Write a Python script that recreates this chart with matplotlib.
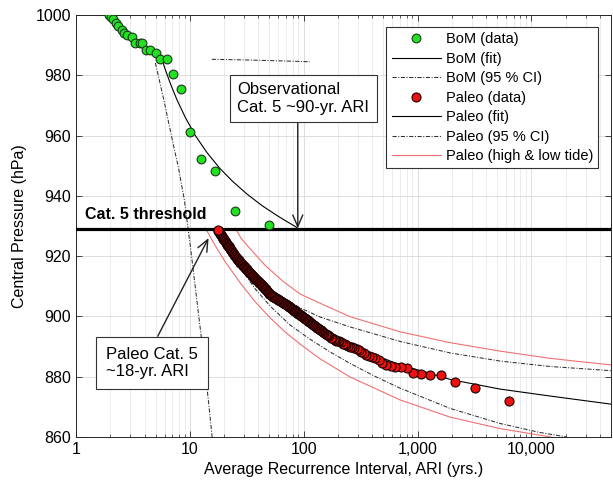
import numpy as np
import matplotlib
matplotlib.use('Agg')
import matplotlib.pyplot as plt
from matplotlib.ticker import FuncFormatter, FixedLocator, LogLocator, NullFormatter

plt.rcParams['font.family'] = ['Liberation Sans', 'DejaVu Sans']

# ---- BoM observations ----
bom_ari = [1.93, 2.02, 2.12, 2.24, 2.34, 2.51, 2.64, 2.79, 3.08, 3.28, 3.64, 3.83,
           4.09, 4.45, 5.0, 5.45, 6.24, 7.13, 8.38, 9.96, 12.5, 16.5, 24.9, 49.5]
bom_p = [1000.0, 999.4, 998.6, 997.5, 996.2, 995.0, 994.1, 993.4, 992.6, 990.6, 990.6, 990.6,
         988.4, 988.4, 987.3, 985.4, 985.4, 980.4, 975.3, 961.3, 952.3, 948.2, 935.1, 930.3]

bom_fit_ari = [5.70, 6.10, 6.75, 7.72, 9.13, 11.17, 14.24, 18.25, 23.6, 31.75, 43.25, 60.97, 87.2]
bom_fit_p = [985.1, 981.8, 977.2, 971.8, 966.0, 960.0, 954.2, 949.2, 944.9, 940.6, 936.7, 933.0, 929.5]

bom_lo_ari = [4.98, 5.91, 7.02, 8.01, 8.95, 10.20, 11.52, 13.0, 14.53, 15.69]
bom_lo_p = [984.1, 971.8, 958.5, 948.6, 938.6, 922.0, 905.4, 888.9, 872.3, 860.0]
bom_hi_ari = [15.6, 30.0, 60.0, 113.0]
bom_hi_p = [985.3, 985.1, 984.8, 984.5]

# ---- Paleo record ----
paleo_ari = [6400, 3200, 2130, 1600, 1280, 1070, 915, 800, 711, 640, 582, 533, 492, 457, 427,
             400, 376, 356, 337, 320, 305, 291, 278, 267, 256, 246, 237, 229, 221, 213, 206,
             200, 194, 188, 183, 178, 173, 168, 164, 160, 156, 152, 149, 145, 142, 139, 136,
             133, 131, 128, 125, 123, 121, 119, 116, 114, 112, 110, 108, 107, 105, 103, 102,
             100, 98.5, 97, 95.5, 94, 92.5, 91, 90, 89, 87.5, 86, 85, 84, 83, 82, 81, 80, 79,
             78, 77, 76, 75, 74, 73, 72, 71, 70, 69, 68, 67, 66, 65, 64, 63, 62, 61, 60, 59,
             58, 57, 56, 55, 54, 53, 52, 51, 50, 49.2, 48.5, 47.7, 47, 46.3, 45.7, 45.0, 44.4,
             43.8, 43.2, 42.6, 42, 41.4, 40.8, 40.1, 39.5, 38.9, 38.3, 37.7, 37.2, 36.7, 36.2,
             35.7, 35.2, 34.7, 34.2, 33.7, 33.3, 32.8, 32.4, 31.9, 31.5, 31.0, 30.6, 30.2,
             29.8, 29.4, 29.0, 28.6, 28.2, 27.8, 27.5, 27.1, 26.8, 26.4, 26.1, 25.7, 25.4,
             25.1, 24.8, 24.5, 24.2, 23.9, 23.6, 23.3, 23.0, 22.7, 22.4, 22.1, 21.9, 21.6,
             21.4, 21.1, 20.9, 20.6, 20.4, 20.1, 19.9, 19.7, 19.5, 19.3, 19.1, 18.9, 18.7,
             18.5, 18.3, 18.1, 17.9, 17.7, 17.5]
paleo_p = [872.0, 876.3, 878.2, 880.5, 880.5, 880.9, 881.3, 882.8, 883.1, 883.3, 883.4, 883.9,
           884.4, 885.4, 886.3, 886.6, 887.0, 887.2, 887.8, 888.3, 888.7, 889.2, 889.4, 889.7,
           889.9, 890.1, 890.5, 890.8, 891.0, 891.4, 891.7, 891.9, 892.0, 892.3, 892.5, 892.7,
           893.0, 893.4, 893.7, 894.0, 894.3, 894.6, 894.9, 895.2, 895.4, 895.6, 895.8, 896.0,
           896.1, 896.4, 896.7, 897.0, 897.2, 897.4, 897.8, 898.0, 898.2, 898.5, 898.7, 898.8,
           899.1, 899.3, 899.4,
           899.6, 899.8, 900.0, 900.2, 900.4, 900.6, 900.8, 900.95, 901.1, 901.3, 901.5, 901.65,
           901.8, 901.95, 902.1, 902.25, 902.4, 902.55, 902.7, 902.85, 903.0, 903.15, 903.3,
           903.5, 903.65, 903.8, 904.0, 904.1, 904.2, 904.4, 904.55, 904.7, 904.9, 905.05,
           905.2, 905.35, 905.5, 905.65, 905.8, 906.0, 906.2, 906.4, 906.6, 906.85, 907.1,
           907.35, 907.6, 907.85, 908.1, 908.4, 908.7, 908.95, 909.2, 909.45, 909.7, 909.95,
           910.2, 910.45, 910.7, 910.95, 911.2, 911.45, 911.7, 911.95, 912.2, 912.45, 912.7,
           912.95, 913.2, 913.45, 913.7, 913.95, 914.2, 914.4, 914.6, 914.85, 915.1, 915.35,
           915.6, 915.85, 916.1, 916.35, 916.6, 916.85, 917.1, 917.35, 917.6, 917.85, 918.1,
           918.35, 918.6, 918.85, 919.1, 919.4, 919.7, 919.95, 920.2, 920.5, 920.8, 921.1,
           921.4, 921.7, 922.0, 922.3, 922.6, 922.9, 923.2, 923.5, 923.8, 924.1, 924.4, 924.7,
           925.0, 925.3, 925.6, 925.85, 926.1, 926.35, 926.6, 926.85, 927.1, 927.35, 927.6,
           927.9, 928.2, 928.5, 928.8]

paleo_fit_ari = [17.43, 24.07, 33.94, 47.84, 66.1, 93.18, 131.3, 181.5, 255.8, 423.8, 702.3,
                 1164, 1928, 5292, 14530, 50000]
paleo_fit_p = [929.3, 922.0, 914.7, 908.8, 904.1, 900.1, 896.5, 893.5, 890.8, 887.2, 883.9,
               881.6, 879.1, 875.9, 873.6, 870.9]

paleo_ci_hi_ari = [18.89, 23.6, 30.68, 41.53, 62.22, 93.18, 139.5, 255.8, 702.3, 1928, 5292,
                   14530, 50000]
paleo_ci_hi_p = [929.0, 923.4, 917.4, 912.1, 906.8, 902.8, 899.8, 896.5, 891.7, 887.9, 885.2,
                 883.4, 882.0]
paleo_ci_lo_ari = [17.43, 21.76, 27.73, 37.55, 50.83, 76.14, 114.0, 170.8, 255.8, 423.8, 702.3,
                   1928, 5292, 11870, 20480]
paleo_ci_lo_p = [927.7, 922.0, 916.1, 909.1, 903.4, 897.1, 892.4, 888.2, 884.4, 880.1, 876.2,
                 869.5, 864.5, 861.5, 860.0]

tide_hi_ari = [25.07, 28.30, 33.94, 45.95, 66.1, 93.18, 154.4, 255.8, 702.3, 1928, 5292, 14530, 50000]
tide_hi_p = [929.3, 925.8, 922.4, 916.9, 911.6, 907.4, 903.6, 899.9, 894.9, 891.3, 888.5, 886.1, 883.9]
tide_lo_ari = [13.68, 16.74, 20.48, 27.73, 37.55, 50.83, 68.82, 93.18, 139.5, 255.8, 702.3,
               1928, 5292, 14830]
tide_lo_p = [929.3, 923.4, 918.1, 911.1, 904.8, 899.5, 894.8, 890.8, 885.9, 879.9, 872.3,
             866.6, 862.8, 860.0]

cat5 = 929

fig = plt.figure(figsize=(6.13, 4.9), dpi=100)
ax = fig.add_axes([76/613, 53/490, 535/613, 422/490])

ci_kw = dict(color='#303030', ls=(0, (4, 1.5, 1, 1.5)), lw=0.75)
tide_kw = dict(color='#f07070', lw=0.8)

ax.axhline(cat5, color='k', lw=2.3, zorder=3)

h_bfit, = ax.plot(bom_fit_ari, bom_fit_p, color='k', lw=0.8)
h_bci, = ax.plot(bom_lo_ari, bom_lo_p, **ci_kw)
ax.plot(bom_hi_ari, bom_hi_p, **ci_kw)
h_pfit, = ax.plot(paleo_fit_ari, paleo_fit_p, color='k', lw=0.8)
h_pci, = ax.plot(paleo_ci_hi_ari, paleo_ci_hi_p, **ci_kw)
ax.plot(paleo_ci_lo_ari, paleo_ci_lo_p, **ci_kw)
h_tide, = ax.plot(tide_hi_ari, tide_hi_p, **tide_kw)
ax.plot(tide_lo_ari, tide_lo_p, **tide_kw)

h_bom, = ax.plot(bom_ari, bom_p, 'o', ms=6.3, mfc='#22e022', mec='#1a3a1a', mew=0.8, zorder=4)
h_pal, = ax.plot(paleo_ari, paleo_p, 'o', ms=6.5, mfc='#ee1111', mec='#1a0000', mew=0.8, zorder=4)

ax.set_xscale('log')
ax.set_xlim(1, 50000)
ax.set_ylim(860, 1000)
ax.set_yticks(np.arange(860, 1001, 20))
ax.xaxis.set_major_locator(FixedLocator([1, 10, 100, 1000, 10000]))
ax.xaxis.set_major_formatter(FuncFormatter(lambda v, p: f'{int(round(v)):,}'))
ax.xaxis.set_minor_locator(LogLocator(base=10, subs=np.arange(2, 10), numticks=20))
ax.xaxis.set_minor_formatter(NullFormatter())

ax.grid(True, which='major', color='#d8d8d8', lw=0.6)
ax.grid(True, which='minor', axis='x', color='#e4e4e4', lw=0.5)
ax.set_axisbelow(True)
ax.tick_params(which='both', direction='in', top=True, right=True, labelsize=11.5,
               colors='#262626', labelcolor='k')
ax.tick_params(which='major', length=4, width=0.6)
ax.tick_params(which='minor', length=2, width=0.5)
for s in ax.spines.values():
    s.set_color('#262626')
    s.set_linewidth(0.7)

ax.set_xlabel('Average Recurrence Interval, ARI (yrs.)', fontsize=11.5, labelpad=4)
ax.set_ylabel('Central Pressure (hPa)', fontsize=11.5, labelpad=6)

ax.text(1.2, 932.3, 'Cat. 5 threshold', fontsize=11.5, fontweight='bold', va='baseline')

box = dict(boxstyle='square,pad=0.45', fc='white', ec='#333333', lw=0.8)
arr = dict(arrowstyle='->,head_length=0.7,head_width=0.3', color='#222222', lw=1.0,
           shrinkA=0, shrinkB=0)
ax.annotate('Observational\nCat. 5 ~90-yr. ARI', xy=(88.7, 929.2), xytext=(26.1, 972.3),
            fontsize=12, ha='left', va='center', bbox=box,
            arrowprops=dict(arr, relpos=(0.458, 0.0)), zorder=5)
ax.annotate('Paleo Cat. 5\n~18-yr. ARI', xy=(14.6, 926.0), xytext=(1.85, 884.6),
            fontsize=12, ha='left', va='center',
            bbox=dict(box, boxstyle='square,pad=0.6'),
            arrowprops=dict(arr, relpos=(0.5, 1.0)), zorder=5)

handles = [h_bom, h_bfit, h_bci, h_pal, h_pfit, h_pci, h_tide]
labels = ['BoM (data)', 'BoM (fit)', 'BoM (95 % CI)', 'Paleo (data)', 'Paleo (fit)',
          'Paleo (95 % CI)', 'Paleo (high & low tide)']
leg = ax.legend(handles, labels, loc='upper right', bbox_to_anchor=(598/613, 1 - 27/490),
                bbox_transform=fig.transFigure, fontsize=10.5, fancybox=False,
                edgecolor='#333333', framealpha=1, borderaxespad=0, handlelength=3.4,
                labelspacing=0.38, borderpad=0.35, handletextpad=0.3, numpoints=1)
leg.get_frame().set_linewidth(0.8)
leg.set_zorder(6)

fig.savefig('out.png', dpi=100)
